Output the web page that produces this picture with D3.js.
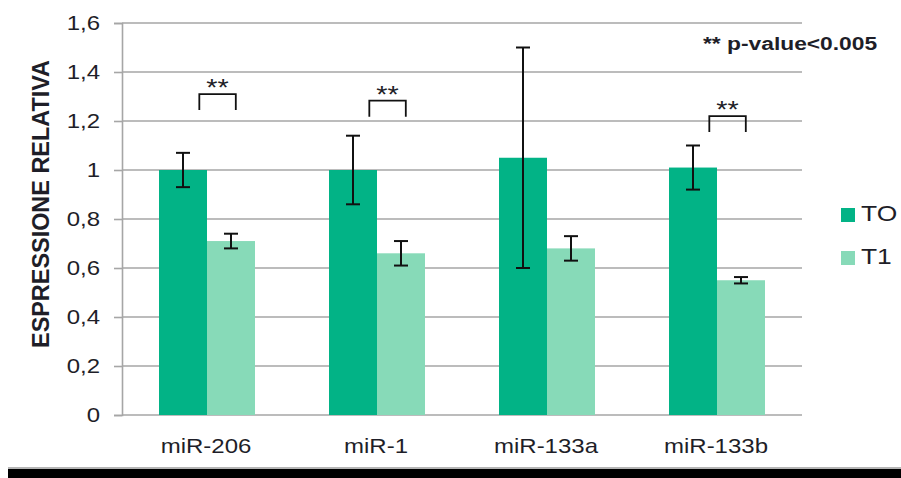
<!DOCTYPE html>
<html>
<head>
<meta charset="utf-8">
<script src="https://cdn.jsdelivr.net/npm/d3@7"></script>
<style>
  html, body { margin: 0; padding: 0; background: #fff; }
  svg { display: block; }
  text { font-family: "Liberation Sans", Arial, sans-serif; fill: #1e1e28; }
</style>
</head>
<body>
<svg id="chart" width="901" height="478"></svg>
<script>
// ---- data ----
const categories = ["miR-206", "miR-1", "miR-133a", "miR-133b"];
const seriesNames = ["TO", "T1"];
const valuesT0 = [1.0, 1.0, 1.05, 1.01];
const valuesT1 = [0.71, 0.66, 0.68, 0.55];
const errorsT0 = [0.07, 0.14, 0.45, 0.09];
const errorsT1 = [0.03, 0.05, 0.05, 0.013];
const yTicks = [0, 0.2, 0.4, 0.6, 0.8, 1, 1.2, 1.4, 1.6];
const sigCategories = ["miR-206", "miR-1", "miR-133b"];
const sigBracketTop = [1.31, 1.283, 1.22];
const sigLabel = "**";
const noteText = "** p-value<0.005";
const yTitle = "ESPRESSIONE RELATIVA";

const colors = { "TO": "#02b386", "T1": "#87dab8" };
const SX = 1.2; // horizontal stretch of the original picture's text

const svg = d3.select("#chart");
const pLeft = 122, pRight = 802, pTop = 23, pBottom = 415;

const y = d3.scaleLinear().domain([0, 1.6]).range([pBottom, pTop]);
const x0 = d3.scaleBand().domain(categories).range([pLeft, pRight])
  .paddingInner(74 / 170).paddingOuter(37 / 170);
const x1 = d3.scaleBand().domain(seriesNames).range([0, x0.bandwidth()]);

// gridlines
svg.append("g").selectAll("line").data(yTicks.filter(d => d > 0)).join("line")
  .attr("x1", pLeft).attr("x2", pRight)
  .attr("y1", d => y(d)).attr("y2", d => y(d))
  .attr("stroke", "#a6a6a6").attr("stroke-width", 1.6);

// y axis
const yAxis = d3.axisLeft(y).tickValues(yTicks).tickSize(8).tickPadding(0)
  .tickFormat(d => d3.format("~g")(d).replace(".", ","));
const yg = svg.append("g").attr("transform", `translate(${pLeft},0)`).call(yAxis);
yg.select(".domain").attr("stroke", "#a6a6a6").attr("stroke-width", 1.6);
yg.selectAll(".tick line").attr("stroke", "#a6a6a6").attr("stroke-width", 1.6);
yg.selectAll(".tick text").remove();
yg.selectAll(".tick").append("text")
  .attr("transform", `translate(-22,0) scale(${SX},1)`)
  .attr("text-anchor", "end").attr("dy", "0.33em")
  .style("font-size", "20px")
  .text(d => d3.format("~g")(d).replace(".", ","));

// x axis line
svg.append("line").attr("x1", pLeft).attr("x2", pRight)
  .attr("y1", pBottom).attr("y2", pBottom)
  .attr("stroke", "#a6a6a6").attr("stroke-width", 1.6);

// x labels
svg.append("g").selectAll("text").data(categories).join("text")
  .attr("transform", d => `translate(${x0(d) + x0.bandwidth() / 2 - 1},453) scale(${SX},1)`)
  .attr("text-anchor", "middle").style("font-size", "20px").text(d => d);

// bars
const rows = categories.map((c, i) => ({
  cat: c,
  items: [
    { s: "TO", v: valuesT0[i], e: errorsT0[i] },
    { s: "T1", v: valuesT1[i], e: errorsT1[i] }
  ]
}));
const groups = svg.append("g").selectAll("g").data(rows).join("g")
  .attr("transform", d => `translate(${x0(d.cat)},0)`);
groups.selectAll("rect").data(d => d.items).join("rect")
  .attr("x", d => x1(d.s)).attr("width", x1.bandwidth())
  .attr("y", d => y(d.v)).attr("height", d => y(0) - y(d.v))
  .attr("fill", d => colors[d.s]);

// error bars
const cap = 7;
const eb = groups.selectAll("g.err").data(d => d.items).join("g").attr("class", "err")
  .attr("transform", d => `translate(${x1(d.s) + x1.bandwidth() / 2},0)`)
  .attr("stroke", "#111").attr("stroke-width", 2);
eb.append("line").attr("y1", d => y(d.v + d.e)).attr("y2", d => y(d.v - d.e));
eb.append("line").attr("x1", -cap).attr("x2", cap).attr("y1", d => y(d.v + d.e)).attr("y2", d => y(d.v + d.e));
eb.append("line").attr("x1", -cap).attr("x2", cap).attr("y1", d => y(d.v - d.e)).attr("y2", d => y(d.v - d.e));

// significance brackets
const bw = x0.bandwidth();
const sig = svg.append("g").selectAll("g").data(sigCategories.map((c, i) => ({ c, t: sigBracketTop[i] })))
  .join("g").attr("transform", d => `translate(${x0(d.c)},0)`);
const bl = bw * 0.42, br = bw * 0.8, bh = 16;
sig.append("path")
  .attr("d", d => `M${bl},${y(d.t) + bh}V${y(d.t)}H${br}V${y(d.t) + bh}`)
  .attr("fill", "none").attr("stroke", "#111").attr("stroke-width", 1.8);
sig.append("text")
  .attr("transform", d => `translate(${(bl + br) / 2},${y(d.t) + 2}) scale(${SX},1)`)
  .attr("text-anchor", "middle").style("font-size", "24px").text(sigLabel);

// note
svg.append("text").attr("transform", `translate(703,50) scale(${SX},1)`)
  .style("font-size", "19px").style("font-weight", "bold").text(noteText);

// y title
svg.append("text").attr("transform", `translate(48.5,204) scale(${SX},1) rotate(-90)`)
  .attr("text-anchor", "middle").style("font-size", "20px").style("font-weight", "bold")
  .attr("textLength", 288).attr("lengthAdjust", "spacingAndGlyphs")
  .text(yTitle);

// legend
const lg = svg.append("g").selectAll("g").data(seriesNames).join("g")
  .attr("transform", (d, i) => `translate(841,${208 + i * 43})`);
lg.append("rect").attr("width", 14).attr("height", 14).attr("fill", d => colors[d]);
lg.append("text").attr("transform", `translate(20,13) scale(${SX},1)`)
  .style("font-size", "22px").text(d => d);

// bottom frame line
svg.append("rect").attr("x", 8).attr("y", 467).attr("width", 893).attr("height", 2).attr("fill", "#b5b5b5");
svg.append("rect").attr("x", 8).attr("y", 469).attr("width", 893).attr("height", 9).attr("fill", "#000");
</script>
</body>
</html>
